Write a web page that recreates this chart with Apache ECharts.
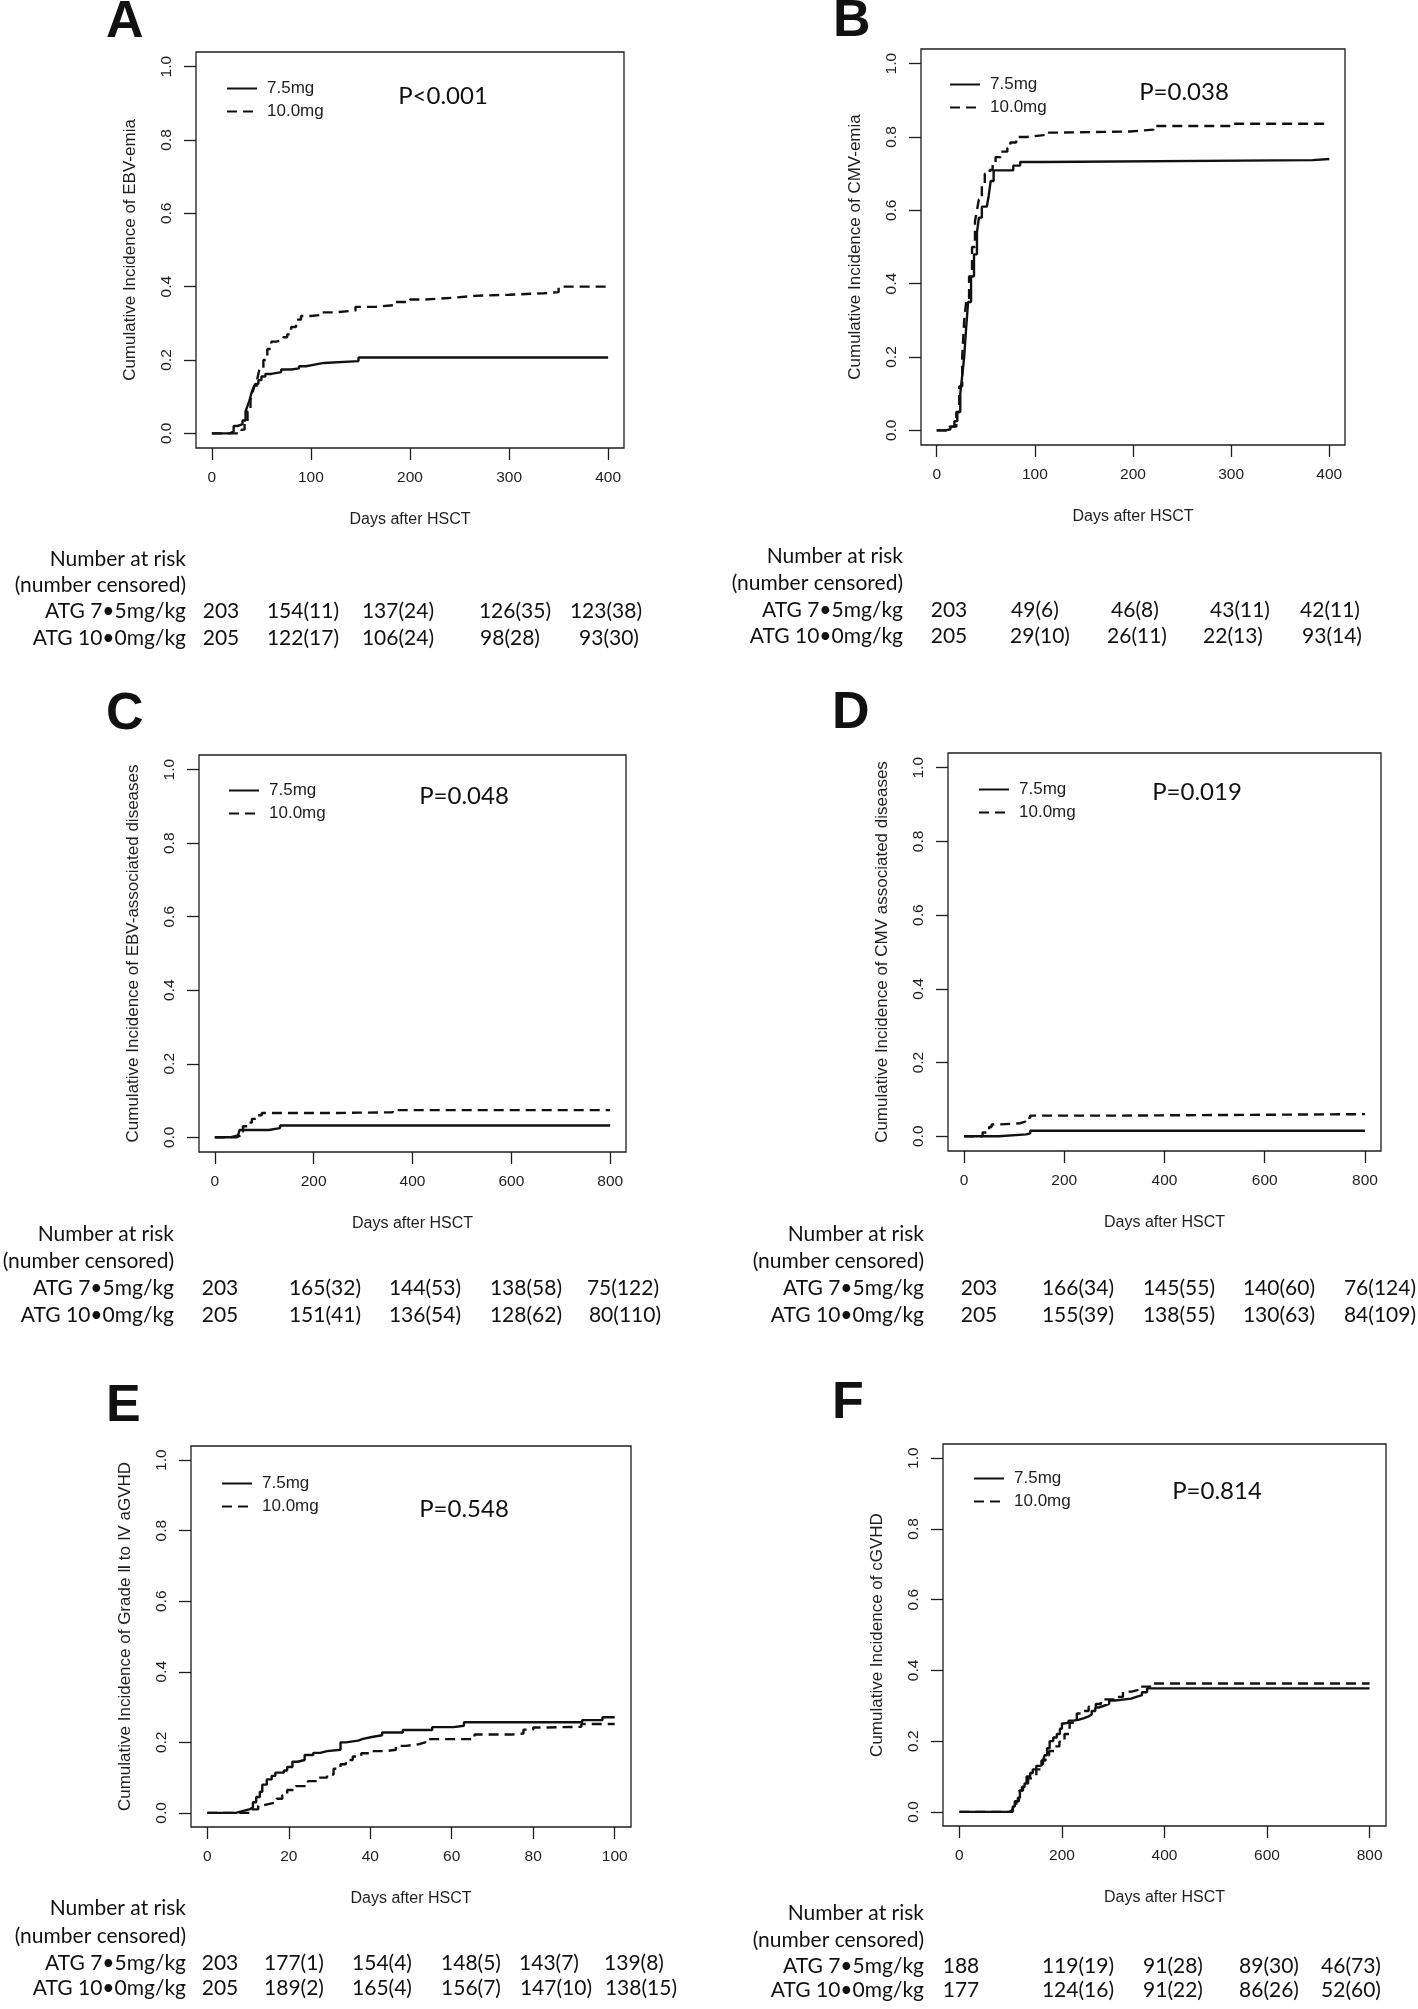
<!DOCTYPE html>
<html>
<head>
<meta charset="utf-8">
<title>Cumulative incidence by ATG dose</title>
<script src="https://cdn.jsdelivr.net/npm/echarts@6/dist/echarts.min.js"></script>
<style>
  html, body { margin: 0; padding: 0; background: #fff; }
  #main { width: 1418px; height: 2009px; }
</style>
</head>
<body>
<div id="main"></div>
<script>
// ---------- curves (day, cumulative incidence) ----------
// A  EBV-emia
const tA75 = [0, 18, 22, 26, 31, 34, 36, 38, 40, 42, 44, 47, 50, 54, 60, 70, 80, 88, 95, 105, 113, 148, 400];
const vA75 = [0, 0.005, 0.02, 0.025, 0.035, 0.06, 0.075, 0.09, 0.11, 0.125, 0.135, 0.145, 0.155, 0.162, 0.167, 0.174, 0.177, 0.183, 0.188, 0.192, 0.197, 0.207, 0.207];
const tA10 = [0, 30, 33, 36, 39, 41, 43, 46, 48, 52, 56, 60, 65, 72, 76, 80, 85, 90, 100, 110, 125, 145, 165, 185, 200, 215, 245, 265, 300, 335, 350, 400];
const vA10 = [0, 0.01, 0.03, 0.06, 0.09, 0.11, 0.13, 0.15, 0.175, 0.2, 0.23, 0.25, 0.255, 0.262, 0.27, 0.29, 0.31, 0.32, 0.323, 0.33, 0.335, 0.345, 0.35, 0.358, 0.365, 0.37, 0.375, 0.378, 0.382, 0.385, 0.4, 0.401];
// B  CMV-emia
const tB75 = [0, 9, 14, 18, 21, 24, 26, 28, 30, 32, 35, 38, 41, 43, 46, 51, 53, 55, 58, 78, 85, 109, 383, 400];
const vB75 = [0, 0.003, 0.01, 0.025, 0.05, 0.1, 0.15, 0.2, 0.28, 0.35, 0.42, 0.48, 0.54, 0.58, 0.61, 0.615, 0.64, 0.68, 0.709, 0.722, 0.732, 0.737, 0.74, 0.74];
const tB10 = [0, 13, 20, 23, 26, 28, 30, 33, 36, 39, 41, 43, 46, 49, 54, 57, 60, 65, 72, 75, 81, 92, 109, 127, 197, 221, 302, 400];
const vB10 = [0, 0.01, 0.05, 0.12, 0.2, 0.3, 0.35, 0.42, 0.5, 0.57, 0.6, 0.63, 0.67, 0.7, 0.71, 0.73, 0.745, 0.76, 0.77, 0.785, 0.8, 0.805, 0.812, 0.815, 0.82, 0.83, 0.836, 0.836];
// C  EBV-associated diseases
const tC75 = [0, 31, 47, 50, 109, 132, 800];
const vC75 = [0, 0.005, 0.01, 0.02, 0.025, 0.032, 0.032];
const tC10 = [0, 45, 52, 57, 66, 75, 85, 95, 228, 360, 800];
const vC10 = [0, 0.005, 0.015, 0.03, 0.04, 0.05, 0.06, 0.066, 0.068, 0.074, 0.074];
// D  CMV associated diseases
const tD75 = [0, 69, 124, 132, 800];
const vD75 = [0, 0.005, 0.008, 0.015, 0.015];
const tD10 = [0, 37, 50, 55, 70, 111, 122, 132, 311, 800];
const vD10 = [0, 0.01, 0.025, 0.032, 0.035, 0.04, 0.05, 0.056, 0.06, 0.06];
// E  grade II-IV aGVHD
const tE75 = [0, 7, 8.6, 10.3, 11.2, 12, 12.9, 13.5, 14.6, 15.8, 16.7, 18.8, 19.6, 20.9, 22.2, 23.9, 26, 27.7, 29.4, 32.7, 34, 37, 38.2, 40.4, 42.9, 48, 55.2, 60.5, 63, 92, 97, 100];
const vE75 = [0, 0.005, 0.01, 0.015, 0.03, 0.045, 0.06, 0.08, 0.095, 0.105, 0.114, 0.12, 0.13, 0.145, 0.15, 0.164, 0.17, 0.175, 0.179, 0.2, 0.205, 0.21, 0.215, 0.22, 0.228, 0.235, 0.243, 0.247, 0.257, 0.263, 0.271, 0.272];
const tE10 = [0, 10.7, 12.5, 13.3, 15, 17, 18.4, 19.6, 21.7, 24.7, 27.2, 29.4, 31, 32.7, 34, 35.7, 37.8, 40.4, 43.7, 46.3, 48.8, 52, 53.5, 65.6, 74.6, 77.6, 80, 82.2, 91.8, 100];
const vE10 = [0, 0.01, 0.02, 0.025, 0.03, 0.04, 0.05, 0.065, 0.076, 0.09, 0.1, 0.109, 0.125, 0.138, 0.15, 0.16, 0.169, 0.175, 0.179, 0.19, 0.195, 0.2, 0.209, 0.222, 0.225, 0.236, 0.242, 0.244, 0.252, 0.252];
// F  cGVHD
const tF75 = [0, 97, 104, 108, 114, 118, 122, 127, 131, 138, 143, 150, 158, 163, 166, 171, 176, 183, 190, 196, 200, 205, 213, 222, 232, 243, 252, 258, 265, 272, 282, 292, 303, 335, 345, 356, 366, 800];
const vF75 = [0, 0.005, 0.015, 0.03, 0.04, 0.06, 0.07, 0.08, 0.1, 0.11, 0.12, 0.13, 0.135, 0.145, 0.16, 0.18, 0.2, 0.21, 0.22, 0.235, 0.25, 0.252, 0.258, 0.26, 0.265, 0.27, 0.275, 0.285, 0.295, 0.3, 0.305, 0.315, 0.32, 0.325, 0.33, 0.338, 0.349, 0.349];
const tF10 = [0, 104, 111, 116, 124, 134, 141, 150, 160, 168, 175, 185, 195, 205, 215, 229, 240, 252, 266, 276, 306, 319, 336, 350, 376, 800];
const vF10 = [0, 0.01, 0.03, 0.06, 0.08, 0.095, 0.1, 0.12, 0.145, 0.16, 0.172, 0.185, 0.198, 0.22, 0.252, 0.278, 0.285, 0.297, 0.305, 0.318, 0.325, 0.34, 0.345, 0.354, 0.363, 0.363];

// ---------- numbers at risk (number censored) ----------
const riskA75 = ['203', '154(11)', '137(24)', '126(35)', '123(38)'];
const riskA10 = ['205', '122(17)', '106(24)', '98(28)', '93(30)'];
const riskB75 = ['203', '49(6)', '46(8)', '43(11)', '42(11)'];
const riskB10 = ['205', '29(10)', '26(11)', '22(13)', '93(14)'];
const riskC75 = ['203', '165(32)', '144(53)', '138(58)', '75(122)'];
const riskC10 = ['205', '151(41)', '136(54)', '128(62)', '80(110)'];
const riskD75 = ['203', '166(34)', '145(55)', '140(60)', '76(124)'];
const riskD10 = ['205', '155(39)', '138(55)', '130(63)', '84(109)'];
const riskE75 = ['203', '177(1)', '154(4)', '148(5)', '143(7)', '139(8)'];
const riskE10 = ['205', '189(2)', '165(4)', '156(7)', '147(10)', '138(15)'];
const riskF75 = ['188', '119(19)', '91(28)', '89(30)', '46(73)'];
const riskF10 = ['177', '124(16)', '91(22)', '86(26)', '52(60)'];

// ---------- labels and ticks ----------
const seriesNames = ['7.5mg', '10.0mg'];
const rowLabels = ['Number at risk', '(number censored)', 'ATG 7\u20225mg/kg', 'ATG 10\u20220mg/kg'];
const pValues = ['P<0.001', 'P=0.038', 'P=0.048', 'P=0.019', 'P=0.548', 'P=0.814'];
const yTitles = [
  'Cumulative Incidence of EBV-emia',
  'Cumulative Incidence of CMV-emia',
  'Cumulative Incidence of EBV-associated diseases',
  'Cumulative Incidence of CMV associated diseases',
  'Cumulative Incidence of Grade \u2161 to \u2163 aGVHD',
  'Cumulative Incidence of cGVHD'
];
const xTitle = 'Days after HSCT';
const xTicks400 = [0, 100, 200, 300, 400];
const xTicks800 = [0, 200, 400, 600, 800];
const xTicks100 = [0, 20, 40, 60, 80, 100];
const yTicks = [0, 0.2, 0.4, 0.6, 0.8, 1.0];

// ---------- layout (px) ----------
const panels = [
  {letter: 'A', box: [196, 52, 428, 396], xMax: 400, ticks: xTicks400, t75: tA75, v75: vA75, t10: tA10, v10: vA10,
   r75: riskA75, r10: riskA10, letterAt: [106, 23], pAt: [443, 96], legendAt: [226, 80],
   tableRight: 186, rows: [559, 585, 611, 638], cols75: [221, 303, 398, 515, 606], cols10: [221, 303, 398, 510, 609]},
  {letter: 'B', box: [921, 49, 424, 396], xMax: 400, ticks: xTicks400, t75: tB75, v75: vB75, t10: tB10, v10: vB10,
   r75: riskB75, r10: riskB10, letterAt: [833, 22], pAt: [1184, 92], legendAt: [949, 76],
   tableRight: 903, rows: [556, 583, 610, 636], cols75: [949, 1035, 1135, 1240, 1330], cols10: [949, 1040, 1137, 1233, 1332]},
  {letter: 'C', box: [199, 755, 427, 397], xMax: 800, ticks: xTicks800, t75: tC75, v75: vC75, t10: tC10, v10: vC10,
   r75: riskC75, r10: riskC10, letterAt: [106, 715], pAt: [464, 796], legendAt: [228, 782],
   tableRight: 174, rows: [1234, 1261, 1288, 1315], cols75: [220, 325, 425, 526, 623], cols10: [220, 325, 425, 526, 625]},
  {letter: 'D', box: [948, 753, 433, 398], xMax: 800, ticks: xTicks800, t75: tD75, v75: vD75, t10: tD10, v10: vD10,
   r75: riskD75, r10: riskD10, letterAt: [832, 714], pAt: [1197, 792], legendAt: [978, 781],
   tableRight: 924, rows: [1234, 1261, 1288, 1315], cols75: [979, 1078, 1179, 1279, 1380], cols10: [979, 1078, 1179, 1279, 1380]},
  {letter: 'E', box: [191, 1446, 440, 381], xMax: 100, ticks: xTicks100, t75: tE75, v75: vE75, t10: tE10, v10: vE10,
   r75: riskE75, r10: riskE10, letterAt: [106, 1407], pAt: [464, 1509], legendAt: [221, 1475],
   tableRight: 186, rows: [1908, 1936, 1963, 1988], cols75: [220, 294, 382, 471, 549, 634], cols10: [220, 294, 382, 471, 556, 641]},
  {letter: 'F', box: [943, 1444, 443, 382], xMax: 800, ticks: xTicks800, t75: tF75, v75: vF75, t10: tF10, v10: vF10,
   r75: riskF75, r10: riskF10, letterAt: [832, 1404], pAt: [1217, 1491], legendAt: [973, 1470],
   tableRight: 924, rows: [1913, 1940, 1966, 1990], cols75: [961, 1078, 1173, 1269, 1351], cols10: [961, 1078, 1173, 1269, 1351]}
];

const ink = '#1e1e1e';
const rFont = '"Liberation Sans", Arial, sans-serif';
const tableFont = 'Lato, "Open Sans", sans-serif';

function textEl(str, x, y, font, align) {
  return {
    type: 'text', x: x, y: y, silent: true,
    style: {text: str, font: font, fill: '#111', align: align, textAlign: align,
            verticalAlign: 'middle', textVerticalAlign: 'middle'}
  };
}

let chart = echarts.init(document.getElementById('main'), null, {renderer: 'canvas'});

let grids = [], xAxes = [], yAxes = [], series = [], legends = [], graphics = [];

panels.forEach(function (p, i) {
  let ext = p.xMax * 0.04;
  grids.push({
    left: p.box[0], top: p.box[1], width: p.box[2], height: p.box[3],
    show: true, borderColor: ink, borderWidth: 1.3, backgroundColor: 'transparent'
  });
  xAxes.push({
    type: 'value', gridIndex: i, min: -ext, max: p.xMax + ext,
    axisLine: {show: false, onZero: false}, splitLine: {show: false},
    axisTick: {show: true, customValues: p.ticks, length: 12, lineStyle: {color: ink, width: 1.3}},
    axisLabel: {customValues: p.ticks, margin: 22, fontFamily: rFont, fontSize: 15.5, color: ink, lineHeight: 16},
    name: xTitle, nameLocation: 'middle', nameGap: 63,
    nameTextStyle: {fontFamily: rFont, fontSize: 16, color: ink, lineHeight: 18}
  });
  yAxes.push({
    type: 'value', gridIndex: i, min: -0.04, max: 1.04,
    axisLine: {show: false, onZero: false}, splitLine: {show: false},
    axisTick: {show: true, customValues: yTicks, length: 12, lineStyle: {color: ink, width: 1.3}},
    axisLabel: {customValues: yTicks, rotate: 90, margin: 21, fontFamily: rFont, fontSize: 15.5, color: ink,
                lineHeight: 16, formatter: function (v) { return v.toFixed(1); }},
    name: yTitles[i], nameLocation: 'middle', nameRotate: 90, nameGap: 57,
    nameTextStyle: {fontFamily: rFont, fontSize: 17, color: ink, lineHeight: 18}
  });
  series.push({
    name: seriesNames[0], type: 'line', xAxisIndex: i, yAxisIndex: i, step: 'end',
    symbol: 'none', silent: true,
    data: p.t75.map(function (t, k) { return [t, p.v75[k]]; }),
    lineStyle: {color: '#111', width: 2.4, type: 'solid'}, itemStyle: {color: '#111'}
  });
  series.push({
    name: seriesNames[1], type: 'line', xAxisIndex: i, yAxisIndex: i, step: 'end',
    symbol: 'none', silent: true,
    data: p.t10.map(function (t, k) { return [t, p.v10[k]]; }),
    lineStyle: {color: '#111', width: 2.4, type: [10, 6]}, itemStyle: {color: '#111'}
  });
  legends.push({
    data: seriesNames, orient: 'vertical', left: p.legendAt[0], top: p.legendAt[1],
    padding: 0, itemWidth: 30, itemHeight: 14, itemGap: 6, selectedMode: false,
    itemStyle: {opacity: 0},
    textStyle: {fontFamily: rFont, fontSize: 17, color: ink, lineHeight: 14, padding: [0, 0, 0, 5]}
  });

  // panel letter and p value
  graphics.push(textEl(p.letter, p.letterAt[0], p.letterAt[1], 'bold 52px ' + rFont, 'left'));
  graphics.push(textEl(pValues[i], p.pAt[0], p.pAt[1], '24px ' + tableFont, 'center'));

  // number-at-risk table
  rowLabels.forEach(function (lab, k) {
    graphics.push(textEl(lab, p.tableRight, p.rows[k], '21px ' + tableFont, 'right'));
  });
  p.r75.forEach(function (s, k) {
    graphics.push(textEl(s, p.cols75[k], p.rows[2], '21px ' + tableFont, 'center'));
  });
  p.r10.forEach(function (s, k) {
    graphics.push(textEl(s, p.cols10[k], p.rows[3], '21px ' + tableFont, 'center'));
  });
});

let option = {
  animation: false,
  backgroundColor: '#fff',
  grid: grids,
  xAxis: xAxes,
  yAxis: yAxes,
  legend: legends,
  series: series,
  graphic: {elements: graphics}
};

chart.setOption(option);
</script>
</body>
</html>
